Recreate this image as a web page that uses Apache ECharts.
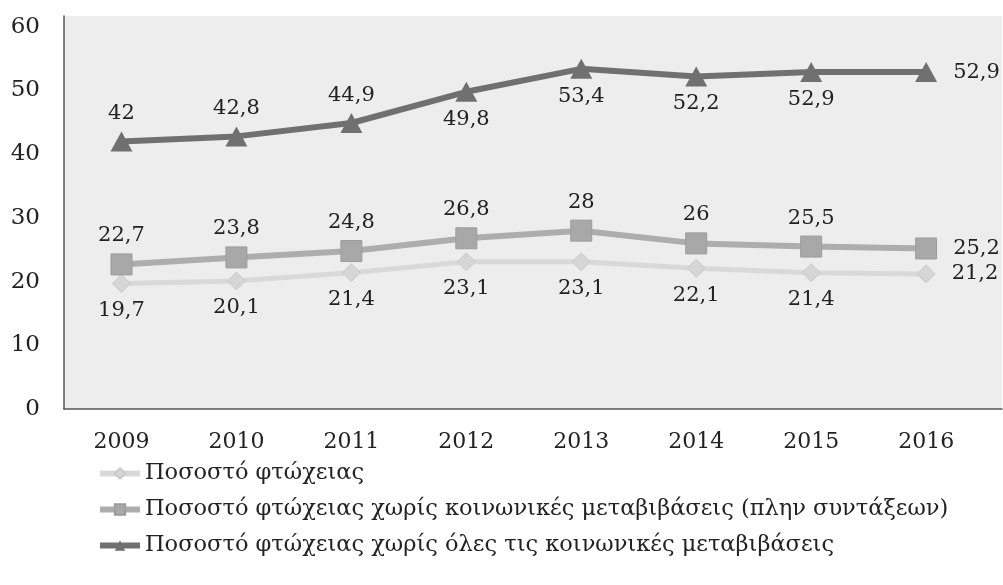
<!DOCTYPE html>
<html>
<head>
<meta charset="utf-8">
<script src="https://cdn.jsdelivr.net/npm/echarts@6/dist/echarts.min.js"></script>
<style>
  html, body { margin: 0; padding: 0; background: #fff; }
  #chart { width: 1003px; height: 585px; }
</style>
</head>
<body>
<div id="chart"></div>
<script>
  var years = [2009, 2010, 2011, 2012, 2013, 2014, 2015, 2016];
  var seriesNames = [
    'Ποσοστό φτώχειας',
    'Ποσοστό φτώχειας χωρίς κοινωνικές μεταβιβάσεις (πλην συντάξεων)',
    'Ποσοστό φτώχειας χωρίς όλες τις κοινωνικές μεταβιβάσεις'
  ];
  var poverty = [19.7, 20.1, 21.4, 23.1, 23.1, 22.1, 21.4, 21.2];
  var noTransfers = [22.7, 23.8, 24.8, 26.8, 28, 26, 25.5, 25.2];
  var noAllTransfers = [42, 42.8, 44.9, 49.8, 53.4, 52.2, 52.9, 52.9];
  // where each value label sits
  var povertyPos = ['bottom', 'bottom', 'bottom', 'bottom', 'bottom', 'bottom', 'bottom', 'right'];
  var noTransfersPos = ['top', 'top', 'top', 'top', 'top', 'top', 'top', 'right'];
  var noAllTransfersPos = ['top', 'top', 'top', 'bottom', 'bottom', 'bottom', 'bottom', 'right'];

  var font = 'DejaVu Serif';
  var textColor = '#222';

  function toPoints(values, pos) {
    return values.map(function(v, i) {
      return {
        value: [years[i], v],
        label: {position: pos[i], distance: pos[i] === 'right' ? 16 : 7}
      };
    });
  }

  var labelStyle = {
    show: true,
    fontFamily: font,
    fontSize: 21,
    color: textColor,
    formatter: function(p) {
      return String(p.value[1]).replace('.', ',');
    }
  };

  var chart = echarts.init(document.getElementById('chart'));
  chart.setOption({
    animation: false,
    backgroundColor: '#ffffff',
    textStyle: {fontFamily: font},
    grid: {
      left: 64,
      right: 1,
      top: 16,
      bottom: 176,
      show: true,
      backgroundColor: '#ededed',
      borderWidth: 0
    },
    legend: {
      orient: 'vertical',
      left: 92,
      top: 457,
      itemWidth: 40,
      itemHeight: 13,
      itemGap: 13,
      lineStyle: {width: 6},
      textStyle: {fontFamily: font, fontSize: 22.5, color: textColor},
      data: seriesNames
    },
    xAxis: {
      type: 'value',
      min: 2008.5,
      max: 2016.66,
      interval: 0.5,
      axisLine: {show: true, lineStyle: {color: '#555', width: 1.5}},
      axisTick: {show: false},
      splitLine: {show: false},
      axisLabel: {
        margin: 22,
        fontFamily: font,
        fontSize: 22,
        color: textColor,
        showMaxLabel: false,
        formatter: function(v) {
          return Number.isInteger(v) ? String(v) : '';
        }
      }
    },
    yAxis: {
      type: 'value',
      min: 0,
      max: 61.7,
      interval: 10,
      axisLine: {show: true, lineStyle: {color: '#555', width: 1.5}},
      axisTick: {show: false},
      splitLine: {show: false},
      axisLabel: {
        margin: 24,
        fontFamily: font,
        fontSize: 23,
        color: textColor,
        showMaxLabel: false
      }
    },
    series: [
      {
        name: seriesNames[0],
        type: 'line',
        symbol: 'diamond',
        symbolSize: 18,
        lineStyle: {color: '#d9d9d9', width: 5},
        itemStyle: {color: '#d6d6d6', borderColor: '#c9c9c9', borderWidth: 1},
        label: labelStyle,
        data: toPoints(poverty, povertyPos),
        z: 2
      },
      {
        name: seriesNames[1],
        type: 'line',
        symbol: 'rect',
        symbolSize: 21,
        lineStyle: {color: '#adadad', width: 6},
        itemStyle: {color: '#a8a8a8', borderColor: '#9c9c9c', borderWidth: 1},
        label: labelStyle,
        data: toPoints(noTransfers, noTransfersPos),
        z: 3
      },
      {
        name: seriesNames[2],
        type: 'line',
        symbol: 'triangle',
        symbolSize: [22, 20],
        lineStyle: {color: '#707070', width: 6},
        itemStyle: {color: '#707070'},
        label: labelStyle,
        data: toPoints(noAllTransfers, noAllTransfersPos),
        z: 4
      }
    ]
  });
</script>
</body>
</html>
